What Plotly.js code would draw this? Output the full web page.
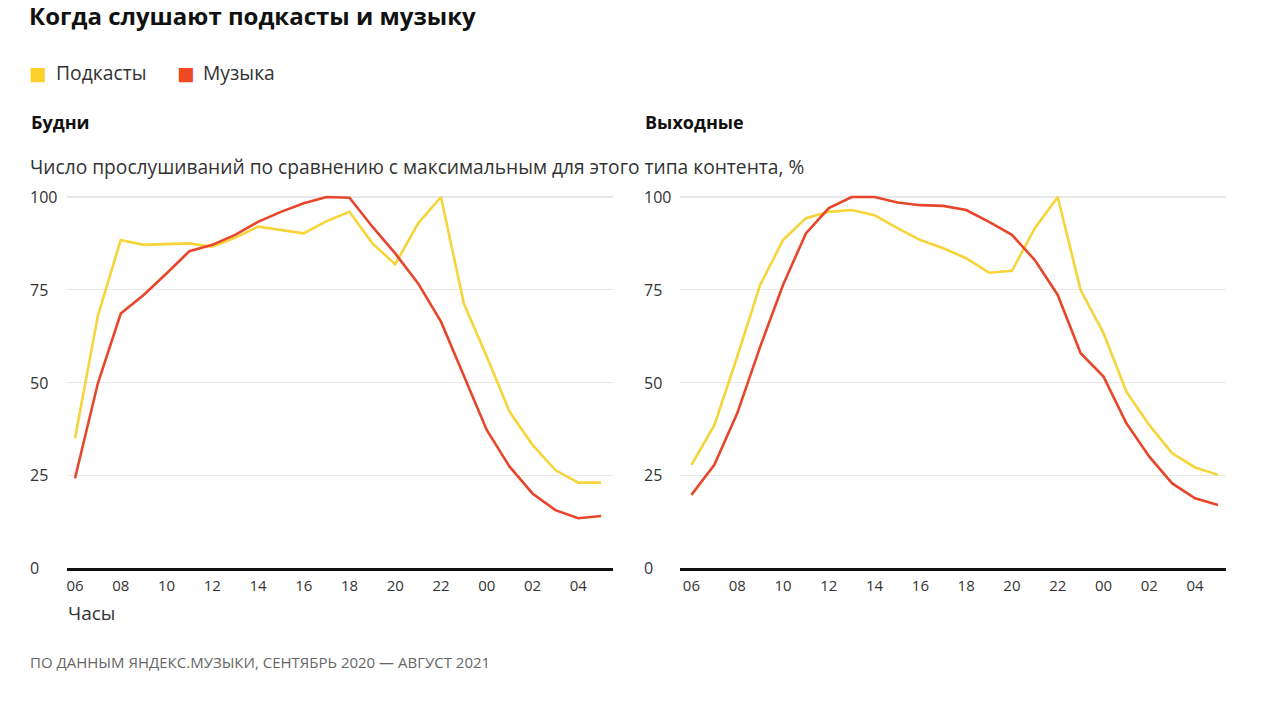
<!DOCTYPE html>
<html>
<head>
<meta charset="utf-8">
<script src="https://cdn.plot.ly/plotly-3.0.1.min.js"></script>
<style>
  html, body { margin: 0; padding: 0; background: #fff; }
  #chart { width: 1280px; height: 704px; }
</style>
</head>
<body>
<div id="chart"></div>
<script>
// hours of the day, starting from 06
const hours = ["06", "07", "08", "09", "10", "11", "12", "13", "14", "15", "16", "17",
  "18", "19", "20", "21", "22", "23", "00", "01", "02", "03", "04", "05"];
const yTicks = [0, 25, 50, 75, 100];

// weekdays
const weekdayPodcasts = [35, 68, 88.4, 87.1, 87.3, 87.5, 86.6, 89, 92, 91.1, 90.2, 93.5,
  96, 87.5, 81.9, 92.9, 100, 71.3, 57, 42.1, 33.2, 26.4, 23, 23];
const weekdayMusic = [24.2, 49.8, 68.6, 73.6, 79.4, 85.4, 87.1, 89.8, 93.3, 96, 98.3, 100,
  99.8, 92, 84.8, 76.7, 66.4, 51.6, 37.2, 27.3, 20.1, 15.6, 13.4, 14];

// weekends
const weekendPodcasts = [27.8, 38.5, 57, 76.3, 88.4, 94.3, 96, 96.5, 95.1, 91.6, 88.4, 86.2,
  83.5, 79.6, 80.1, 91.6, 100, 74.9, 63.3, 47.5, 38.5, 30.9, 27.1, 25.1];
const weekendMusic = [19.7, 27.8, 41.7, 59.6, 76.3, 90.2, 97, 100, 100, 98.5, 97.8, 97.6,
  96.5, 93.3, 89.8, 83, 73.6, 57.9, 51.6, 39, 30, 22.8, 18.8, 17];

const YELLOW = "#f6d43a";
const RED = "#e8462b";
const FONT = "Open Sans, sans-serif";
const W = 1280, H = 704;

// page px -> paper coords (margins are zero)
const px = (x) => x / W;
const py = (y) => 1 - y / H;

function line(x, y, color, xa, ya) {
  return { x, y, xaxis: xa, yaxis: ya, type: "scatter", mode: "lines", showlegend: false,
    hoverinfo: "skip", line: { color, width: 2.6 } };
}

const traces = [
  line(hours, weekdayPodcasts, YELLOW, "x", "y"),
  line(hours, weekdayMusic, RED, "x", "y"),
  line(hours, weekendPodcasts, YELLOW, "x2", "y2"),
  line(hours, weekendMusic, RED, "x2", "y2"),
];

const tickHours = hours.filter((h, i) => i % 2 === 0);

function xAxis(domain, range, anchor) {
  return {
    domain, range, anchor, type: "category", tickvals: tickHours, ticktext: tickHours,
    showgrid: false, zeroline: false, showline: true, linecolor: "#111", linewidth: 3,
    ticks: "", ticklabelstandoff: 2, tickfont: { family: FONT, size: 15, color: "#333" },
    fixedrange: true,
  };
}

function yAxis(anchor) {
  return {
    domain: [py(568), py(193.3)], range: [0, 101], anchor,
    tickvals: yTicks, showticklabels: false, showgrid: true, gridcolor: "#e9e9e9", gridwidth: 1.2,
    zeroline: false, showline: false, ticks: "", fixedrange: true,
  };
}

const annotations = [];
function text(t, x, y, size, color) {
  annotations.push({
    text: t, xref: "paper", yref: "paper", x: px(x), y: py(y), xanchor: "left", yanchor: "middle",
    showarrow: false, font: { family: FONT, size, color },
  });
}

text("<b>Когда слушают подкасты и музыку</b>", 27, 15, 24, "#111");
text("■", 27, 72, 29, "#fcd12a");
text("Подкасты", 54, 72, 19.3, "#333");
text("■", 175, 72, 29, "#f04a24");
text("Музыка", 201, 72, 19.3, "#333");
text("<b>Будни</b>", 29, 122, 18, "#111");
text("<b>Выходные</b>", 643, 122, 18, "#111");
text("Число прослушиваний по сравнению с максимальным для этого типа контента, %", 28, 166, 19.2, "#333");
text("Часы", 66, 613, 19, "#333");
text("ПО ДАННЫМ ЯНДЕКС.МУЗЫКИ, СЕНТЯБРЬ 2020 — АВГУСТ 2021", 28, 662, 15, "#666");

// y tick labels, left aligned like the original
yTicks.forEach((v) => {
  annotations.push({ text: String(v), xref: "paper", yref: "y", x: px(28), y: v, xanchor: "left",
    yanchor: "middle", showarrow: false, font: { family: FONT, size: 16, color: "#333" } });
  annotations.push({ text: String(v), xref: "paper", yref: "y2", x: px(642), y: v, xanchor: "left",
    yanchor: "middle", showarrow: false, font: { family: FONT, size: 16, color: "#333" } });
});

const layout = {
  width: W, height: H,
  margin: { l: 0, r: 0, t: 0, b: 0 },
  paper_bgcolor: "#fff", plot_bgcolor: "#fff",
  showlegend: false,
  xaxis: xAxis([px(67), px(613)], [-0.35, 23.52], "y"),
  yaxis: yAxis("x"),
  xaxis2: xAxis([px(680), px(1226)], [-0.5, 23.35], "y2"),
  yaxis2: yAxis("x2"),
  annotations,
};

Plotly.newPlot("chart", traces, layout, { displayModeBar: false, staticPlot: true });
</script>
</body>
</html>
